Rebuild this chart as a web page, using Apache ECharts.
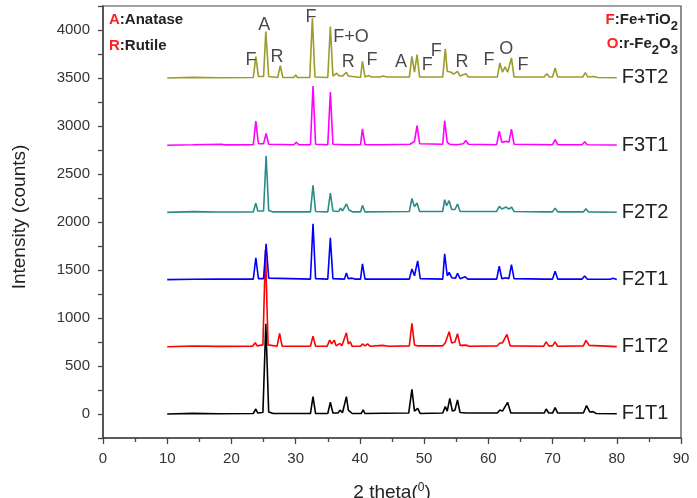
<!DOCTYPE html>
<html>
<head>
<meta charset="utf-8">
<script src="https://cdn.jsdelivr.net/npm/echarts@6/dist/echarts.min.js"></script>
<style>
  html, body { margin: 0; padding: 0; background: #fff; }
  #chart { width: 697px; height: 498px; }
</style>
</head>
<body>
<div id="chart"></div>
<script>
// sample names, bottom to top, and the vertical offset each pattern is drawn with
var sampleNames = ['F1T1', 'F1T2', 'F2T1', 'F2T2', 'F3T1', 'F3T2']
var sampleOffsets = [0, 700, 1400, 2100, 2800, 3500]
var sampleColors = ['#000000', '#ff0000', '#0000ff', '#2a8c88', '#ff00ff', '#9c9c2c']

// raw patterns, [2theta, counts above baseline]
var f1t1 = [[10,0],[14,6],[18,2],[23.4,5],[23.8,52],[24.1,10],[24.9,15],[25.35,940],[25.8,20],[26.5,5],[27.2,5],[27.5,24],[27.9,5],
  [32.3,5],[32.7,181],[33.1,5],[35.0,5],[35.4,122],[35.8,10],[36.6,10],[36.9,40],[37.3,15],[37.6,20],[37.9,181],[38.2,40],[38.5,42],[38.8,5],
  [40.2,5],[40.5,42],[40.8,5],[43.5,8],[47.6,10],[48.1,257],[48.5,30],[49.0,59],[49.4,5],[52.9,10],[53.3,77],[53.6,30],[54.0,163],[54.4,30],
  [54.8,40],[55.2,146],[55.6,15],[56.6,10],[61.4,10],[61.8,42],[62.2,30],[63.0,122],[63.5,10],[68.7,10],[69.0,52],[69.4,10],[70.0,10],
  [70.4,66],[70.8,10],[74.8,10],[75.3,87],[75.8,20],[76.3,25],[76.8,5],[80,2]]
var f1t2 = [[10,0],[14,8],[18,4],[23.3,5],[23.7,43],[24.0,10],[24.9,20],[25.3,1010],[25.7,20],[27.1,5],[27.5,139],[27.9,5],
  [32.3,5],[32.7,111],[33.1,5],[34.9,5],[35.3,70],[35.6,30],[36.0,70],[36.3,10],[36.6,10],[36.9,35],[37.2,10],[37.5,20],[37.9,146],[38.2,30],
  [38.5,52],[38.8,5],[40.1,5],[40.4,30],[40.8,10],[41.2,30],[41.6,5],[43.5,15],[44.5,5],[47.7,10],[48.1,244],[48.5,20],[48.9,10],
  [52.9,10],[53.3,42],[53.6,50],[53.9,157],[54.3,40],[54.8,50],[55.2,136],[55.6,15],[56.6,17],[57.0,5],[61.4,10],[61.8,40],[62.2,40],
  [62.9,129],[63.4,10],[68.6,5],[69.0,52],[69.4,10],[70.0,10],[70.4,52],[70.8,5],[74.8,10],[75.2,66],[75.7,15],[80,2]]
var f2t1 = [[10,0],[14,4],[18,6],[23.4,5],[23.8,226],[24.2,10],[25.0,10],[25.4,372],[25.8,15],[32.3,5],[32.7,581],[33.1,10],
  [35.0,5],[35.4,435],[35.8,10],[37.6,5],[37.9,70],[38.2,10],[38.8,15],[39.2,5],[40.1,5],[40.4,163],[40.8,5],[47.7,5],[48.1,111],
  [48.5,40],[49.0,195],[49.4,10],[52.9,5],[53.2,268],[53.6,40],[53.9,75],[54.3,20],[54.9,15],[55.2,66],[55.6,10],[56.4,30],[56.8,5],
  [61.3,5],[61.7,139],[62.1,10],[62.8,20],[63.2,10],[63.6,157],[64.0,10],[68.7,5],[69.0,25],[69.3,5],[70.0,5],[70.4,87],[70.8,5],
  [74.6,5],[75.0,38],[75.4,5],[79.0,4],[79.4,15],[80,2]]
var f2t2 = [[10,0],[14,8],[18,4],[23.4,5],[23.8,97],[24.1,15],[25.0,15],[25.4,591],[25.8,20],[26.5,5],[32.3,5],[32.7,282],[33.1,10],
  [35.0,5],[35.4,202],[35.8,15],[36.7,10],[37.0,45],[37.3,15],[37.6,20],[37.9,90],[38.3,25],[38.6,45],[38.9,5],[40.1,5],[40.4,73],[40.8,5],
  [47.7,10],[48.1,146],[48.5,60],[48.9,97],[49.3,10],[52.9,10],[53.2,132],[53.5,70],[53.9,122],[54.3,30],[54.8,30],[55.2,87],[55.6,10],
  [61.3,10],[61.7,63],[62.1,35],[62.8,56],[63.2,35],[63.6,56],[64.0,10],[68.7,5],[69.0,20],[69.3,5],[70.0,5],[70.4,45],[70.8,5],
  [74.8,5],[75.2,38],[75.6,5],[80,2]]
var f3t1 = [[10,0],[14,4],[18.5,10],[19,3],[23.4,5],[23.8,250],[24.2,15],[25.0,15],[25.4,122],[25.8,10],[29.7,5],[30.1,31],[30.5,5],
  [32.3,5],[32.7,616],[33.1,10],[35.0,5],[35.4,553],[35.8,10],[37.6,5],[37.9,24],[38.2,5],[40.1,5],[40.4,170],[40.8,5],[42.8,5],
  [43.1,20],[43.4,5],[47.8,10],[48.1,30],[48.5,40],[48.9,205],[49.3,15],[52.9,10],[53.2,257],[53.6,30],[54.0,10],[55.0,5],[55.3,24],
  [55.6,10],[56.1,15],[56.5,49],[56.9,10],[61.3,5],[61.7,146],[62.1,30],[62.8,40],[63.2,30],[63.6,167],[64.0,10],[70.0,5],[70.4,59],
  [70.8,5],[74.6,5],[75.0,35],[75.4,5],[80,2]]
var f3t2 = [[10,0],[14,6],[18,3],[23.4,5],[23.8,222],[24.2,15],[25.0,15],[25.35,484],[25.8,15],[27.2,5],[27.6,128],[28.0,5],[29.7,5],
  [30.0,31],[30.3,5],[32.2,5],[32.6,623],[33.0,10],[35.0,5],[35.4,536],[35.8,20],[36.1,30],[36.4,50],[36.7,25],[37.0,40],[37.3,20],
  [37.6,25],[37.9,60],[38.2,20],[40.1,5],[40.4,174],[40.8,10],[41.4,25],[41.8,10],[43.2,10],[43.6,20],[44.2,10],[47.7,10],[48.1,226],
  [48.5,60],[48.9,243],[49.3,10],[52.9,10],[53.3,303],[53.6,70],[53.9,50],[54.2,60],[54.6,40],[55.2,70],[55.6,20],[56.5,45],[56.9,10],
  [61.4,10],[61.8,157],[62.2,60],[62.6,115],[63.0,60],[63.6,209],[64.0,10],[68.7,10],[69.1,45],[69.5,10],[70.0,10],[70.4,104],
  [70.8,10],[74.7,10],[75.1,56],[75.5,10],[76.5,15],[77,5],[80,2]]
var patterns = [f1t1, f1t2, f2t1, f2t2, f3t1, f3t2]

// peak letters above the F3T2 pattern: [2theta, intensity, text]
var peakLabels = [[23.05,3690,'F'],[25.1,4050,'A'],[27.1,3715,'R'],[32.4,4130,'F'],[38.6,3925,'F+O'],[38.2,3665,'R'],
  [41.9,3690,'F'],[46.4,3665,'A'],[50.5,3630,'F'],[51.9,3780,'F'],[55.9,3665,'R'],[60.1,3690,'F'],[62.8,3800,'O'],[65.4,3630,'F']]

var xTicks = [0, 90, 10]
var yTicks = [-250, 4250, 250]

var font = 'Liberation Sans, Arial, sans-serif'
var chart = echarts.init(document.getElementById('chart'))

var series = patterns.map(function (pts, i) {
  return {
    name: sampleNames[i],
    type: 'line',
    showSymbol: false,
    symbol: 'none',
    lineStyle: { width: 1.6, color: sampleColors[i] },
    itemStyle: { color: sampleColors[i] },
    z: 2 + i,
    endLabel: {
      show: true,
      formatter: '{a}',
      distance: 5,
      fontFamily: font,
      fontSize: 20,
      color: '#222'
    },
    data: pts.map(function (p) { return [p[0], p[1] + sampleOffsets[i]] })
  }
})

series.push({
  type: 'scatter',
  symbolSize: 0,
  z: 10,
  silent: true,
  label: {
    show: true,
    position: 'inside',
    formatter: function (p) { return p.value[2] },
    fontFamily: font,
    fontSize: 18,
    color: '#1a1a1a'
  },
  data: peakLabels
})

var legendRich = {
  r: { fontFamily: font, fontSize: 15, fontWeight: 'bold', fill: '#ff2020', lineHeight: 17, verticalAlign: 'top' },
  b: { fontFamily: font, fontSize: 15, fontWeight: 'bold', fill: '#222', lineHeight: 17, verticalAlign: 'top' },
  s: { fontFamily: font, fontSize: 13, fontWeight: 'bold', fill: '#222', lineHeight: 13, padding: [8, 0, 0, 0], verticalAlign: 'top' }
}

chart.setOption({
  animation: false,
  backgroundColor: '#fff',
  grid: {
    left: 103, right: 16, top: 6, bottom: 60,
    outerBoundsMode: 'none',
    containLabel: false,
    show: true, borderColor: '#444', borderWidth: 1.2
  },
  xAxis: {
    type: 'value',
    min: xTicks[0], max: xTicks[1], interval: xTicks[2],
    name: '2 theta({sup|0})',
    nameLocation: 'middle',
    nameGap: 44,
    nameTextStyle: {
      fontFamily: font, fontSize: 19, color: '#222', lineHeight: 22,
      rich: { sup: { fontFamily: font, fontSize: 12, lineHeight: 22, verticalAlign: 'top', padding: [0, 0, 8, 0], color: '#222' } }
    },
    axisLine: { onZero: false, lineStyle: { color: '#444', width: 1.5 } },
    axisTick: { inside: false, length: 6, lineStyle: { color: '#444', width: 1.3 } },
    minorTick: { show: true, splitNumber: 2, length: 4, lineStyle: { color: '#444', width: 1.3 } },
    axisLabel: { fontFamily: font, fontSize: 15, color: '#333', margin: 13 },
    splitLine: { show: false }
  },
  yAxis: {
    type: 'value',
    min: yTicks[0], max: yTicks[1], interval: yTicks[2],
    name: 'Intensity (counts)',
    nameLocation: 'middle',
    nameGap: 74,
    nameTextStyle: { fontFamily: font, fontSize: 19, color: '#222', padding: [0, 0, 0, 10] },
    axisLine: { show: true, lineStyle: { color: '#444', width: 1.5 } },
    axisTick: { inside: false, length: 5, lineStyle: { color: '#444', width: 1.3 } },
    axisLabel: {
      fontFamily: font, fontSize: 15, color: '#333', margin: 13,
      formatter: function (v) { return v % 500 === 0 ? String(v) : '' }
    },
    splitLine: { show: false }
  },
  graphic: [
    {
      type: 'text', left: 109, top: 12,
      style: { text: '{r|A}{b|:Anatase}', rich: legendRich }
    },
    {
      type: 'text', left: 109, top: 38,
      style: { text: '{r|R}{b|:Rutile}', rich: legendRich }
    },
    {
      type: 'text', right: 19, top: 12,
      style: { text: '{r|F}{b|:Fe+TiO}{s|2}', rich: legendRich }
    },
    {
      type: 'text', right: 19, top: 36,
      style: { text: '{r|O}{b|:r-Fe}{s|2}{b|O}{s|3}', rich: legendRich }
    }
  ],
  series: series
})
</script>
</body>
</html>
